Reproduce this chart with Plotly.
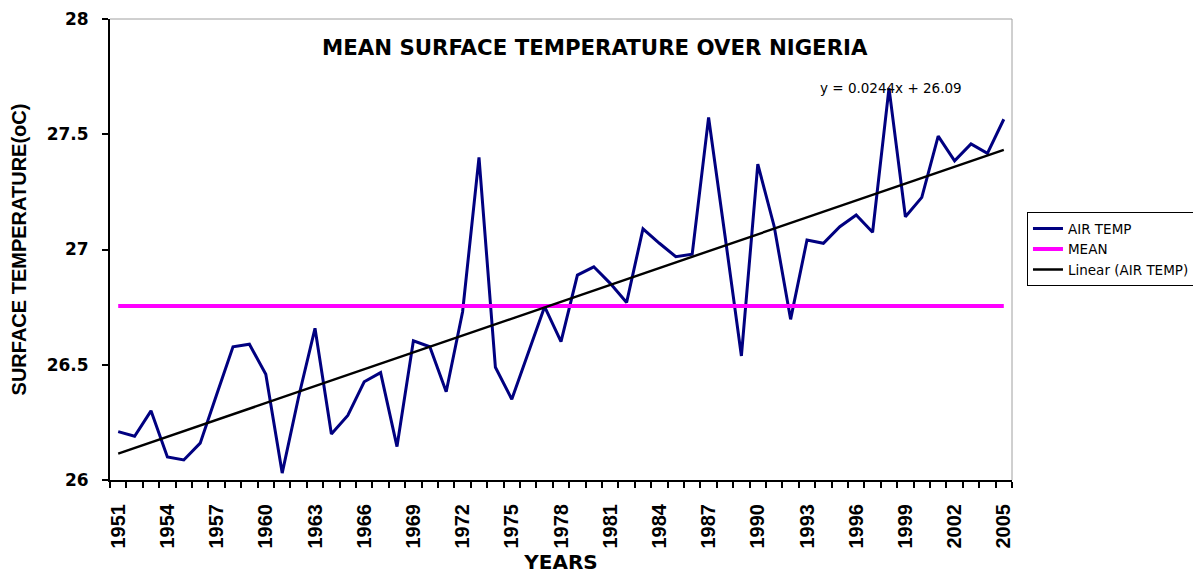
import plotly.graph_objects as go

years = list(range(1951, 2006))
air_temp = [26.21, 26.19, 26.30, 26.10, 26.087, 26.16, 26.37, 26.578, 26.589, 26.459,
            26.03, 26.36, 26.658, 26.20, 26.28, 26.426, 26.466, 26.145, 26.604, 26.578,
            26.383, 26.73, 27.40, 26.489, 26.35, 26.55, 26.752, 26.60, 26.889, 26.925,
            26.853, 26.77, 27.09, 27.027, 26.969, 26.98, 27.573, 27.06, 26.538, 27.37,
            27.10, 26.697, 27.041, 27.027, 27.099, 27.15, 27.075, 27.70, 27.142, 27.226,
            27.492, 27.385, 27.458, 27.417, 27.565]
mean_value = 26.755
trend_slope = 0.0244
trend_intercept = 26.09
x_tick_labels = [str(y) for y in range(1951, 2006, 3)]
y_tick_vals = [26, 26.5, 27, 27.5, 28]
y_tick_text = ["26", "26.5", "27", "27.5", "28"]

trend = [trend_slope * (i + 1) + trend_intercept for i in range(len(years))]
mean_line = [mean_value] * len(years)

ARIAL = "Arial, 'Liberation Sans', sans-serif"
WIDE = "'DejaVu Sans', Arial, sans-serif"

fig = go.Figure()
fig.add_trace(go.Scatter(x=years, y=air_temp, mode="lines", name="AIR TEMP",
                         line=dict(color="#000080", width=3)))
fig.add_trace(go.Scatter(x=years, y=mean_line, mode="lines", name="MEAN",
                         line=dict(color="#FF00FF", width=4)))
fig.add_trace(go.Scatter(x=years, y=trend, mode="lines", name="Linear (AIR TEMP)",
                         line=dict(color="#000000", width=2.4)))

fig.update_layout(
    width=1193, height=566,
    margin=dict(l=102, r=189, t=11, b=94, autoexpand=False),
    plot_bgcolor="white", paper_bgcolor="white",
    font=dict(family=ARIAL, color="black"),
    showlegend=True,
    legend=dict(x=1.0166, y=0.581, xanchor="left", yanchor="top",
                bordercolor="black", borderwidth=1, bgcolor="white",
                font=dict(size=13.5, family=WIDE), tracegroupgap=0,
                itemwidth=30),
    xaxis=dict(range=[1950.5, 2005.5], tickmode="array",
               tickvals=list(range(1951, 2006, 3)), ticktext=x_tick_labels,
               tickangle=-90, tickfont=dict(size=20, family=ARIAL, weight="bold"),
               ticks="", ticklabelstandoff=14,
               showline=True, linecolor="black", linewidth=2,
               showgrid=False, zeroline=False, mirror=False, automargin=False,
               minor=dict(ticks="outside", tick0=1950.5, dtick=1, ticklen=6,
                          tickcolor="black", tickwidth=2, showgrid=False),
               title=dict(text="<b>YEARS</b>", font=dict(size=20, family=WIDE), standoff=10)),
    yaxis=dict(range=[26, 28], tickmode="array", tickvals=y_tick_vals, ticktext=y_tick_text,
               tickfont=dict(size=17, family=WIDE, weight="bold"),
               ticks="outside", ticklen=6, tickwidth=2, tickcolor="black",
               ticklabelstandoff=10,
               showline=True, linecolor="black", linewidth=2,
               showgrid=False, zeroline=False, automargin=False,
               title=dict(text="<b>SURFACE TEMPERATURE(oC)</b>", font=dict(size=20, family=ARIAL), standoff=22)),
    shapes=[
        dict(type="line", xref="paper", yref="paper", x0=0, x1=1, y0=1, y1=1,
             line=dict(color="#A0A0A0", width=1)),
        dict(type="line", xref="paper", yref="paper", x0=1, x1=1, y0=0, y1=1,
             line=dict(color="#A0A0A0", width=1)),
    ],
    annotations=[
        dict(text="<b>MEAN SURFACE TEMPERATURE OVER NIGERIA</b>", xref="paper", yref="paper",
             x=0.5377, y=0.939, xanchor="center", yanchor="middle", showarrow=False,
             font=dict(size=21.3, family=WIDE)),
        dict(text="y = 0.0244x + 26.09", xref="paper", yref="paper",
             x=0.785, y=0.85, xanchor="left", yanchor="middle", showarrow=False,
             font=dict(size=13.5, family=WIDE)),
    ],
)

fig.write_html("out.html")
